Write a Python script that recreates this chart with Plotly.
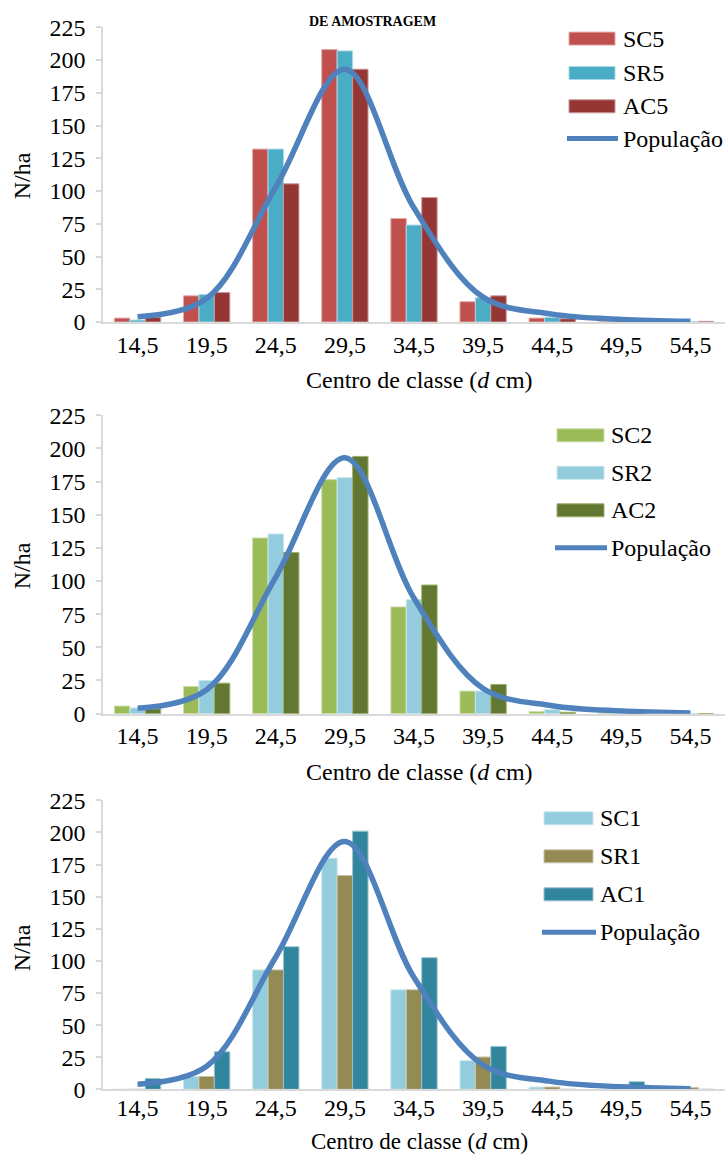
import plotly.graph_objects as go

# ---------------- data ----------------
categories = ["14,5", "19,5", "24,5", "29,5", "34,5", "39,5", "44,5", "49,5", "54,5"]
y_ticks = [0, 25, 50, 75, 100, 125, 150, 175, 200, 225]

populacao = [4, 18, 103, 193, 87, 19, 6, 2, 0.5]

sc5 = [3, 20, 132, 208, 79, 15.5, 3, 0, 0]
sr5 = [1.5, 21, 132, 207, 74, 18.5, 3.5, 0, 0]
ac5 = [3.5, 22.5, 105.5, 193, 95, 20, 2.5, 0, 0.5]

sc2 = [5.7, 20.5, 132.5, 176.5, 80.5, 17, 1.5, 0, 0]
sr2 = [4.3, 25, 135.5, 178, 86, 17, 3, 0, 0]
ac2 = [3.5, 23, 121.5, 194, 97, 22, 1, 2.5, 0]

sc1 = [0, 10, 93, 180, 77.5, 22.3, 1.8, 0, 0]
sr1 = [0, 10, 93, 166.5, 77.5, 25.2, 1.8, 0, 1.5]
ac1 = [8.4, 29.2, 111, 201, 102.5, 33.4, 0, 5.9, 0]

panels = [
    {"names": ["SC5", "SR5", "AC5"], "values": [sc5, sr5, ac5],
     "colors": ["#C0504D", "#4BACC6", "#943634"],
     "edges": ["#E2A9A8", "#A8D8E6", "#C99A99"]},
    {"names": ["SC2", "SR2", "AC2"], "values": [sc2, sr2, ac2],
     "colors": ["#9BBB59", "#93CDDD", "#627731"],
     "edges": ["#CDDDAC", "#C9E6EE", "#9DB06A"]},
    {"names": ["SC1", "SR1", "AC1"], "values": [sc1, sr1, ac1],
     "colors": ["#93CDDD", "#948A54", "#31859C"],
     "edges": ["#C9E6EE", "#C9C4A9", "#98C2CD"]},
]
pop_color = "#4F81BD"

# ---------------- geometry ----------------
W, H = 728, 1168
# the photographed page shows the figure inset vertically (top ~12.7px, scale ~0.978);
# positions below are target picture pixels, mapped back to figure pixels.
def fy(y_pic):
    return (y_pic - 12.7) / 0.9777
def px(x):
    return x / W
def py(y_pic):
    return 1 - fy(y_pic) / H

x_left, x_right = 103, 725
panel_y = [(321.7, 27), (713.3, 415), (1089, 800)]          # (zero, top) in picture pixels
label_standoff = [0, 0, -4]
xtitle_y = [380, 772, None]
ytitle_y = [176, 566, 948]
legend_rows = [[38.3, 72.7, 106, 138.3], [435, 472.5, 510, 547.5], [818, 856, 894, 932]]
legend_x = [(569, 615, 621), (557, 604, 609), (544, 593, 598)]

FONT = "Liberation Serif"

fig = go.Figure()
shapes = []
annotations = []

for i, p in enumerate(panels):
    ax = "" if i == 0 else str(i + 1)
    xa, ya = "x" + ax, "y" + ax
    for name, vals, col, edge in zip(p["names"], p["values"], p["colors"], p["edges"]):
        fig.add_trace(go.Bar(x=categories, y=vals, name=name, xaxis=xa, yaxis=ya,
                             marker=dict(color=col, line=dict(color=edge, width=1)),
                             showlegend=False))
    fig.add_trace(go.Scatter(x=categories, y=populacao, name="População", xaxis=xa, yaxis=ya,
                             mode="lines", line=dict(color=pop_color, width=5.5, shape="spline", smoothing=1.0),
                             showlegend=False))

    zero, top = panel_y[i]
    fig.layout["xaxis" + ax] = dict(
        domain=[px(x_left), px(x_right)], anchor=ya, type="category",
        range=[-0.5, 8.5], showline=True, linecolor="#D9D9D9", linewidth=2,
        ticks="", showgrid=False, zeroline=False, ticklabelstandoff=label_standoff[i],
        tickfont=dict(family=FONT, size=24, color="black"),
    )
    fig.layout["yaxis" + ax] = dict(
        domain=[py(zero), py(top)], anchor=xa, range=[0, 225],
        tickvals=y_ticks, showline=True, linecolor="#D9D9D9", linewidth=1.5,
        ticks="outside", ticklen=5, tickcolor="#D9D9D9", tickwidth=1.5,
        showgrid=False, zeroline=False, ticklabelstandoff=6,
        tickfont=dict(family=FONT, size=24, color="black"),
    )

    if xtitle_y[i] is not None:
        annotations.append(dict(text="Centro de classe (<i>d</i> cm)", x=px(420), y=py(xtitle_y[i]),
                                xref="paper", yref="paper", showarrow=False, xanchor="center", yanchor="middle",
                                font=dict(family=FONT, size=24, color="black")))
    else:
        annotations.append(dict(text="Centro de classe (<i>d</i> cm)", x=px(420), y=0,
                                xref="paper", yref="paper", showarrow=False, xanchor="center", yanchor="bottom",
                                borderpad=0, font=dict(family=FONT, size=23, color="black")))
    annotations.append(dict(text="N/ha", x=px(22), y=py(ytitle_y[i]), textangle=-90,
                            xref="paper", yref="paper", showarrow=False, xanchor="center", yanchor="middle",
                            font=dict(family=FONT, size=24, color="black")))

    sx0, sx1, tx = legend_x[i]
    rows = legend_rows[i]
    labels = p["names"] + ["População"]
    for j, row in enumerate(rows):
        if j < 3:
            shapes.append(dict(type="rect", xref="paper", yref="paper",
                               x0=px(sx0), x1=px(sx1), y0=py(row + 6.5), y1=py(row - 6.5),
                               fillcolor=p["colors"][j], line=dict(color=p["edges"][j], width=1)))
        else:
            shapes.append(dict(type="line", xref="paper", yref="paper",
                               x0=px(sx0 - 2), x1=px(sx1 + 3), y0=py(row), y1=py(row),
                               line=dict(color=pop_color, width=5)))
        annotations.append(dict(text=labels[j], x=px(tx), y=py(row), xref="paper", yref="paper",
                                showarrow=False, xanchor="left", yanchor="middle",
                                font=dict(family=FONT, size=24, color="black")))

# remnant of the chart title at the very top
annotations.append(dict(text="<b>DE AMOSTRAGEM</b>", x=px(372), y=1, xref="paper", yref="paper",
                        showarrow=False, xanchor="center", yanchor="top", borderpad=0,
                        font=dict(family=FONT, size=14, color="black")))

fig.update_layout(
    width=W, height=H, margin=dict(l=0, r=0, t=0, b=0),
    paper_bgcolor="white", plot_bgcolor="white",
    barmode="group", bargap=0.33, bargroupgap=0,
    showlegend=False, shapes=shapes, annotations=annotations,
    font=dict(family=FONT, color="black"),
)

fig.write_html("out.html")
